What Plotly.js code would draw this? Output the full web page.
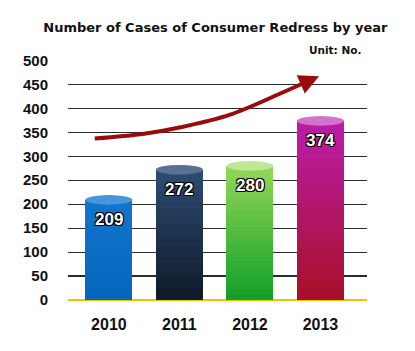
<!DOCTYPE html>
<html>
<head>
<meta charset="utf-8">
<script src="https://cdn.plot.ly/plotly-3.0.1.min.js"></script>
<style>html,body{margin:0;padding:0;background:#fff;}#chart{width:415px;height:351px;}</style>
</head>
<body>
<div id="chart"></div>
<script>
// ---- data ----
const years = ['2010', '2011', '2012', '2013'];
const cases = [209, 272, 280, 374];
const yTicks = [0, 50, 100, 150, 200, 250, 300, 350, 400, 450, 500];
// trend arrow path (in category-index / value units)
const trendX = [-0.2, 0.5, 1.0, 1.72, 2.43, 2.78];
const trendY = [337, 347, 360, 387, 431, 454];
const trendTip = [2.98, 467];
// ---- styles ----
const topColors = ['#1274ca', '#2d4b72', '#92d657', '#bb1ca8'];
const bottomColors = ['#0466bd', '#0f1a2a', '#12a028', '#a8102a'];
const capColors = ['#4696dc', '#5a7292', '#bde894', '#d472cc'];

function hex(c){return [parseInt(c.slice(1,3),16),parseInt(c.slice(3,5),16),parseInt(c.slice(5,7),16)];}
function mix(a,b,t){const A=hex(a),B=hex(b);return 'rgb('+A.map((v,i)=>Math.round(v+(B[i]-v)*t)).join(',')+')';}

const xs = cases.map((_, i) => i);
const barW = 0.667;
const traces = [];
const N = 24;
for (let k = 0; k < N; k++) {
  const f = 1 - k / N;
  traces.push({
    type: 'bar', x: xs, y: cases.map(v => v * f), width: barW,
    marker: {color: cases.map((_, i) => mix(topColors[i], bottomColors[i], k / (N - 1))), line: {width: 0}},
    hoverinfo: 'skip', showlegend: false
  });
}
traces.push({
  type: 'scatter', mode: 'lines', x: trendX, y: trendY,
  line: {color: '#9a0c0c', width: 4, shape: 'spline', smoothing: 1},
  hoverinfo: 'skip', showlegend: false
});

const capH = 10; // half-height of cylinder top in value units
const shapes = cases.map((v, i) => ({
  type: 'circle', xref: 'x', yref: 'y', layer: 'above',
  x0: i - barW / 2, x1: i + barW / 2, y0: v - capH, y1: v + capH,
  fillcolor: capColors[i], line: {width: 0}
}));

const annotations = cases.map((v, i) => ({
  x: i, y: v, xref: 'x', yref: 'y', text: String(v), showarrow: false,
  yshift: -20,
  font: {family: 'Liberation Sans, Arial, sans-serif', size: 17, color: '#ffffff', weight: 'bold',
         shadow: '1px 1px 0 #000, -1px -1px 0 #000, 1px -1px 0 #000, -1px 1px 0 #000'}
}));
annotations.push({
  x: trendTip[0], y: trendTip[1], ax: trendX[trendX.length - 1], ay: trendY[trendY.length - 1],
  xref: 'x', yref: 'y', axref: 'x', ayref: 'y', text: '', showarrow: true,
  arrowhead: 2, arrowsize: 1, arrowwidth: 4, arrowcolor: '#9a0c0c', standoff: 0
});
annotations.push({
  xref: 'paper', yref: 'paper', x: 0.985, y: 1.04, xanchor: 'right', yanchor: 'middle',
  text: 'Unit: No.', showarrow: false,
  font: {family: 'DejaVu Sans, sans-serif', size: 10.5, color: '#111', weight: 'bold'}
});

const layout = {
  width: 415, height: 351,
  margin: {l: 68, r: 48, t: 60, b: 51},
  paper_bgcolor: '#fff', plot_bgcolor: '#fff',
  barmode: 'overlay', bargap: 0,
  title: {text: 'Number of Cases of Consumer Redress by year', x: 0.519, xanchor: 'center', y: 0.923, yanchor: 'middle',
          font: {family: 'DejaVu Sans, sans-serif', size: 13, color: '#111', weight: 'bold'}},
  xaxis: {range: [-0.58, 3.66], tickmode: 'array', tickvals: xs, ticktext: years,
          showgrid: false, zeroline: false, showline: false,
          ticks: 'outside', ticklen: 10, tickcolor: 'rgba(0,0,0,0)',
          tickfont: {family: 'Liberation Sans, Arial, sans-serif', size: 16, color: '#111', weight: 'bold'}},
  yaxis: {range: [0, 501], tickmode: 'array', tickvals: yTicks,
          showgrid: true, gridcolor: '#2b2b2b', gridwidth: 1.2,
          zeroline: true, zerolinecolor: '#f2c200', zerolinewidth: 2.5, showline: false,
          ticks: 'outside', ticklen: 16, tickcolor: 'rgba(0,0,0,0)',
          tickfont: {family: 'Liberation Sans, Arial, sans-serif', size: 15, color: '#111', weight: 'bold'}},
  shapes: shapes,
  annotations: annotations
};
Plotly.newPlot('chart', traces, layout, {displayModeBar: false, staticPlot: true});
</script>
</body>
</html>
